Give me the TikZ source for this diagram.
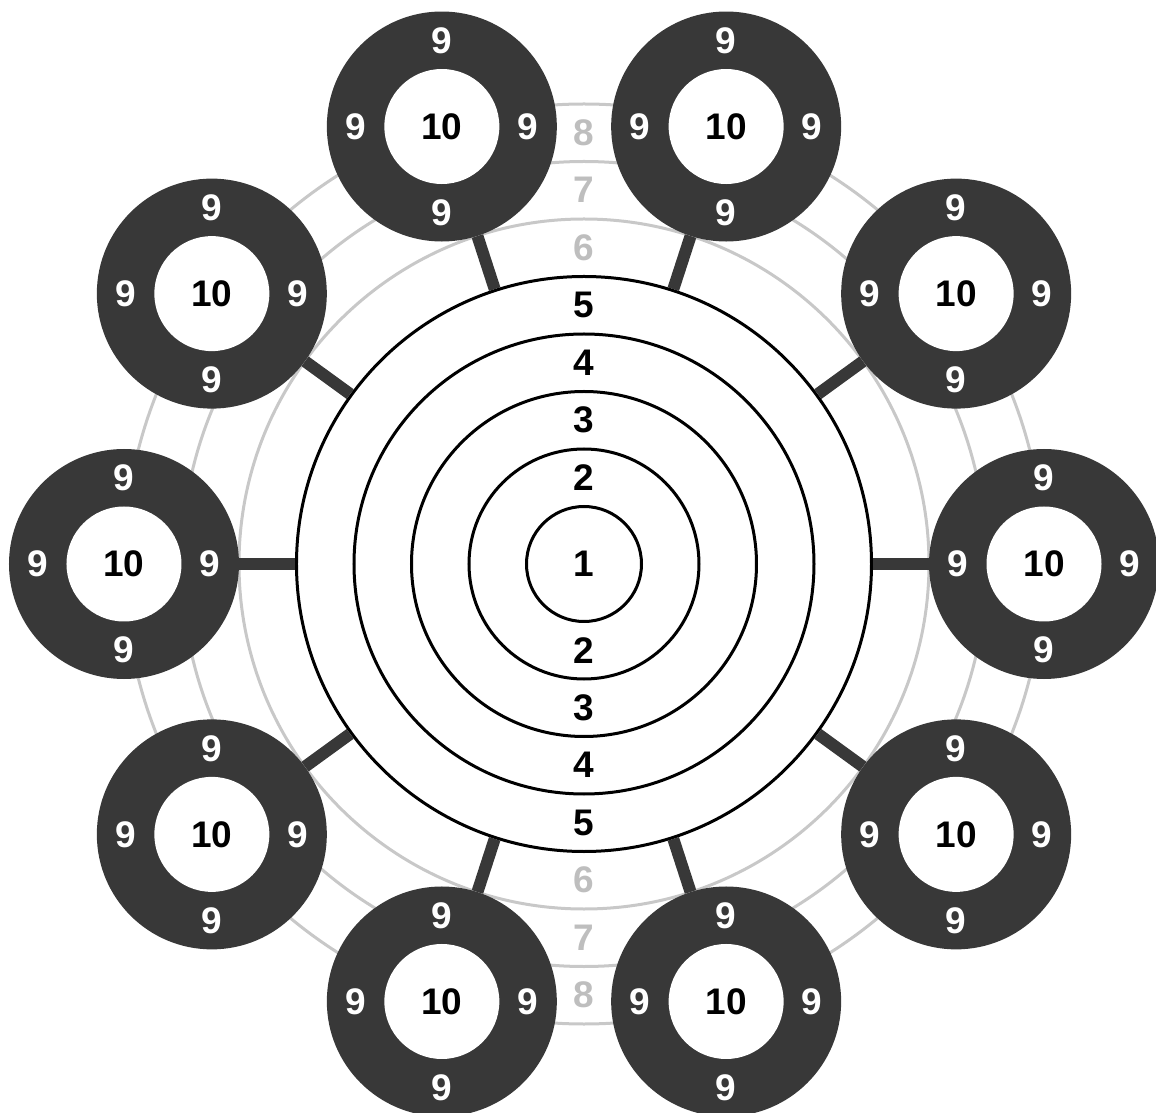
\documentclass[tikz,border=0pt]{standalone}
\usepackage{fontspec}
\setmainfont{Liberation Sans}
\usetikzlibrary{calc}
\definecolor{dark}{HTML}{383838}
\definecolor{ringgrey}{HTML}{C8C8C8}
\definecolor{numgrey}{HTML}{BEBEBE}
\begin{document}
\begin{tikzpicture}[x=1pt,y=1pt,
  ring/.style={circle, draw=black, line width=3pt, inner sep=0pt, minimum size=#1},
  grey ring/.style={circle, draw=ringgrey, line width=3pt, inner sep=0pt, minimum size=#1},
  target/.style={circle, fill=dark, inner sep=0pt, minimum size=230pt},
  bull/.style={circle, fill=white, inner sep=0pt, minimum size=115pt},
  conn/.style={draw=dark, line width=12pt},
  lbl/.style={inner sep=0pt, font=\fontsize{37}{44}\selectfont\bfseries, text=black},
  glbl/.style={lbl, text=numgrey},
  wlbl/.style={lbl, text=white}]
\useasboundingbox (-584,-549) rectangle (572,564);
% grey outer rings
\foreach \k/\d in {6/690,7/805,8/920}
  \node[grey ring=\d pt] (r\k) at (0,0) {};
% black rings
\foreach \k/\d in {5/575,4/460,3/345,2/230,1/115}
  \node[ring=\d pt] (r\k) at (0,0) {};
% targets and connectors
\foreach \i in {0,...,9} {
  \pgfmathtruncatemacro\a{36*\i}
  \pgfmathtruncatemacro\b{36*\i+180}
  \node[target] (t\i) at (\a:460) {};
  \draw[conn] (r5.\a) -- (t\i.\b);
  \node[bull] (b\i) at (t\i.center) {};
  \node[lbl] (ten\i) at (t\i.center) {10};
  \node[wlbl] (nt\i) at ($(t\i.center)+(0,86)$) {9};
  \node[wlbl] (nb\i) at ($(t\i.center)+(0,-86)$) {9};
  \node[wlbl] (nl\i) at ($(t\i.center)+(-86,0)$) {9};
  \node[wlbl] (nr\i) at ($(t\i.center)+(86,0)$) {9};
}
% ring numbers
\node[lbl] (n1) at (0,0) {1};
\foreach \k/\y in {2/86.25,3/143.75,4/201.25,5/258.75} {
  \node[lbl] (nu\k) at (0,\y) {\k};
  \node[lbl] (nd\k) at (0,-\y) {\k};
}
\foreach \k/\y in {6/316.25,7/373.75,8/431.25} {
  \node[glbl] (nu\k) at (0,\y) {\k};
  \node[glbl] (nd\k) at (0,-\y) {\k};
}
\end{tikzpicture}
\end{document}
